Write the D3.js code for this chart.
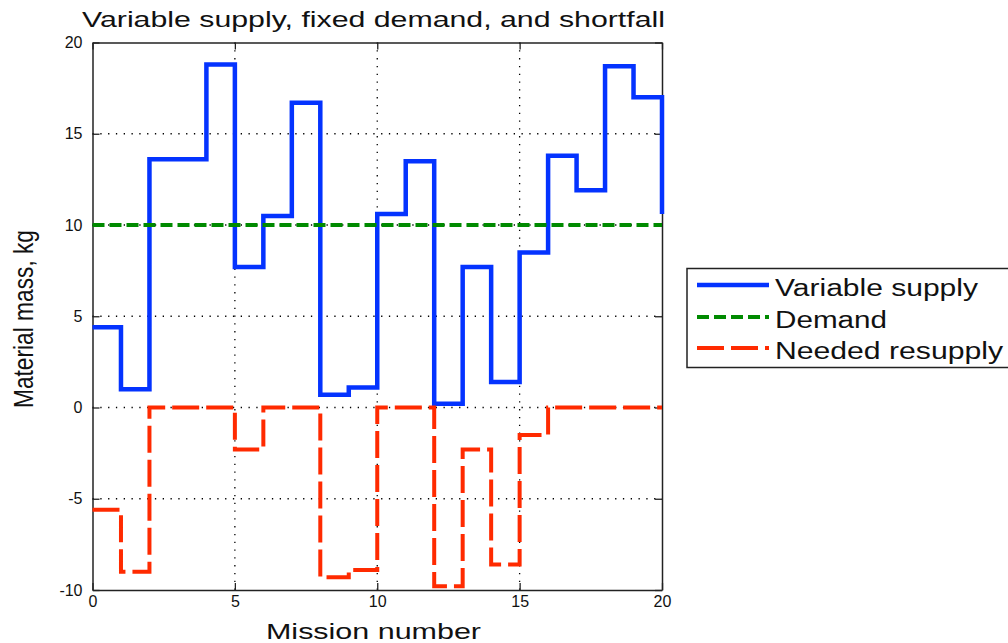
<!DOCTYPE html>
<html>
<head>
<meta charset="utf-8">
<script src="https://cdn.jsdelivr.net/npm/d3@7"></script>
<style>
  body { margin: 0; background: #fff; }
  svg { display: block; font-family: "Liberation Sans", Arial, sans-serif; }
</style>
</head>
<body>
<svg id="chart" width="1008" height="643"></svg>
<script>
// mission numbers 0..20 (stairs, value holds until next mission)
const missions = d3.range(0, 21);
const supply = [4.4, 1.0, 13.6, 13.6, 18.8, 7.7, 10.5, 16.7, 0.7, 1.1, 10.6, 13.5, 0.2, 7.7, 1.4, 8.5, 13.8, 11.9, 18.7, 17.0, 10.6];
const demand = [10, 10, 10, 10, 10, 10, 10, 10, 10, 10, 10, 10, 10, 10, 10, 10, 10, 10, 10, 10, 10];
const resupply = [-5.6, -9.0, 0, 0, 0, -2.3, 0, 0, -9.3, -8.9, 0, 0, -9.8, -2.3, -8.6, -1.5, 0, 0, 0, 0, 0];

const seriesNames = ["Variable supply", "Demand", "Needed resupply"];
const xTicks = [0, 5, 10, 15, 20];
const yTicks = [-10, -5, 0, 5, 10, 15, 20];

const series = [
    { name: seriesNames[0], values: supply, color: "#0433ff", width: 4.5, dash: null, legendW: 203 },
    { name: seriesNames[1], values: demand, color: "#008a00", width: 4, dash: "12,5", legendW: 112 },
    { name: seriesNames[2], values: resupply, color: "#ff2a00", width: 4, dash: "27,7", legendW: 228 }
];

const plotLeft = 92.5, plotRight = 662, plotTop = 42.5, plotBottom = 590;

const svg = d3.select("#chart");

const x = d3.scaleLinear().domain([0, 20]).range([plotLeft, plotRight]);
const y = d3.scaleLinear().domain([-10, 20]).range([plotBottom, plotTop]);

// dotted grid
const grid = svg.append("g")
    .attr("stroke", "#000")
    .attr("stroke-width", 1.3)
    .attr("stroke-dasharray", "1.3,6.5");

grid.selectAll(".gx")
    .data(xTicks.slice(1, -1))
    .enter().append("line")
    .attr("x1", d => x(d)).attr("x2", d => x(d))
    .attr("y1", plotTop).attr("y2", plotBottom);

grid.selectAll(".gy")
    .data(yTicks.slice(1, -1))
    .enter().append("line")
    .attr("x1", plotLeft).attr("x2", plotRight)
    .attr("y1", d => y(d)).attr("y2", d => y(d));

// axes, ticks pointing inwards like matlab
function styleAxis(g) {
    g.selectAll("path").attr("stroke", "#222").attr("stroke-width", 1.5);
    g.selectAll("line").attr("stroke", "#222").attr("stroke-width", 1.3);
    g.selectAll("text")
        .attr("fill", "#111")
        .style("font-size", "16px")
        .style("font-family", "'Liberation Sans', Arial, sans-serif");
}

const plainLabel = d => String(d);

svg.append("g")
    .attr("transform", `translate(0,${plotBottom})`)
    .call(d3.axisBottom(x).tickValues(xTicks).tickFormat(plainLabel).tickSize(-7).tickSizeOuter(0).tickPadding(6))
    .call(styleAxis);

svg.append("g")
    .attr("transform", `translate(0,${plotTop})`)
    .call(d3.axisTop(x).tickValues(xTicks).tickSize(-7).tickSizeOuter(0).tickFormat(""))
    .call(styleAxis);

svg.append("g")
    .attr("transform", `translate(${plotLeft},0)`)
    .call(d3.axisLeft(y).tickValues(yTicks).tickFormat(plainLabel).tickSize(-7).tickSizeOuter(0).tickPadding(10))
    .call(styleAxis);

svg.append("g")
    .attr("transform", `translate(${plotRight},0)`)
    .call(d3.axisRight(y).tickValues(yTicks).tickSize(-7).tickSizeOuter(0).tickFormat(""))
    .call(styleAxis);

// series as stairs
const line = d3.line()
    .x((d, i) => x(missions[i]))
    .y(d => y(d))
    .curve(d3.curveStepAfter);

series.forEach(s => {
    svg.append("path")
        .datum(s.values)
        .attr("fill", "none")
        .attr("stroke", s.color)
        .attr("stroke-width", s.width)
        .attr("stroke-dasharray", s.dash)
        .attr("stroke-linejoin", "miter")
        .attr("d", line);
});

// title and axis labels
svg.append("text")
    .attr("x", 82).attr("y", 27)
    .attr("textLength", 583).attr("lengthAdjust", "spacingAndGlyphs")
    .style("font-size", "22px").attr("fill", "#111")
    .text("Variable supply, fixed demand, and shortfall");

svg.append("text")
    .attr("x", 266).attr("y", 639)
    .attr("textLength", 215).attr("lengthAdjust", "spacingAndGlyphs")
    .style("font-size", "22px").attr("fill", "#111")
    .text("Mission number");

svg.append("text")
    .attr("transform", "translate(33,319) scale(1.28,1) rotate(-90)")
    .attr("text-anchor", "middle")
    .attr("textLength", 178).attr("lengthAdjust", "spacingAndGlyphs")
    .style("font-size", "22px").attr("fill", "#111")
    .text("Material mass, kg");

// legend
const legend = svg.append("g");
legend.append("rect")
    .attr("x", 687).attr("y", 268.5)
    .attr("width", 330).attr("height", 99)
    .attr("fill", "#fff")
    .attr("stroke", "#222")
    .attr("stroke-width", 1.5);

const rowY = [285, 317, 348];
series.forEach((s, i) => {
    legend.append("line")
        .attr("x1", 697).attr("x2", 769)
        .attr("y1", rowY[i]).attr("y2", rowY[i])
        .attr("stroke", s.color)
        .attr("stroke-width", s.width)
        .attr("stroke-dasharray", s.dash);
    legend.append("text")
        .attr("x", 775).attr("y", rowY[i] + 11)
        .attr("textLength", s.legendW).attr("lengthAdjust", "spacingAndGlyphs")
        .style("font-size", "23px").attr("fill", "#111")
        .text(s.name);
});
</script>
</body>
</html>
